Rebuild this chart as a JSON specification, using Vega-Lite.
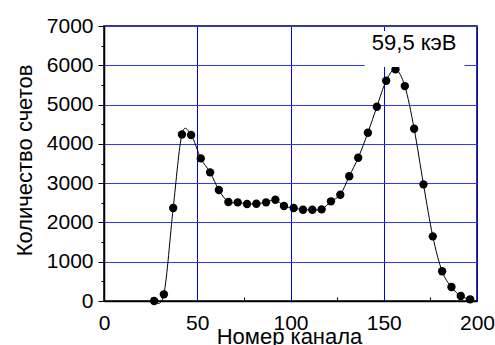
{
  "$schema": "https://vega.github.io/schema/vega-lite/v6.json",
  "width": 373,
  "height": 275,
  "autosize": {"type": "none"},
  "padding": {"left": 104, "top": 26, "right": 18, "bottom": 44},
  "background": "white",
  "config": {
    "view": {"stroke": "black", "strokeWidth": 1.5},
    "axis": {
      "labelFont": "Liberation Sans",
      "titleFont": "Liberation Sans",
      "labelFontSize": 21,
      "titleFontSize": 22,
      "titleFontWeight": "normal",
      "labelColor": "black",
      "titleColor": "black",
      "tickColor": "black",
      "domainColor": "black",
      "domainWidth": 1.5,
      "labelFlush": false,
      "labelOverlap": false
    }
  },
  "data": {
    "values": [
      {"channel": 26.9, "counts": 0},
      {"channel": 32.1, "counts": 170},
      {"channel": 37.1, "counts": 2366},
      {"channel": 41.8, "counts": 4240},
      {"channel": 46.7, "counts": 4224},
      {"channel": 51.9, "counts": 3630},
      {"channel": 56.9, "counts": 3275},
      {"channel": 61.6, "counts": 2824},
      {"channel": 66.7, "counts": 2519},
      {"channel": 71.7, "counts": 2511},
      {"channel": 76.7, "counts": 2468},
      {"channel": 81.7, "counts": 2476},
      {"channel": 86.9, "counts": 2511},
      {"channel": 91.9, "counts": 2578},
      {"channel": 96.5, "counts": 2417},
      {"channel": 101.7, "counts": 2366},
      {"channel": 106.7, "counts": 2323},
      {"channel": 111.7, "counts": 2323},
      {"channel": 116.7, "counts": 2333},
      {"channel": 121.7, "counts": 2537},
      {"channel": 126.7, "counts": 2705},
      {"channel": 131.5, "counts": 3175},
      {"channel": 136.3, "counts": 3646},
      {"channel": 141.5, "counts": 4283},
      {"channel": 146.3, "counts": 4944},
      {"channel": 151.3, "counts": 5606},
      {"channel": 156.3, "counts": 5895},
      {"channel": 161.3, "counts": 5471},
      {"channel": 166.3, "counts": 4384},
      {"channel": 171.3, "counts": 2969},
      {"channel": 176.3, "counts": 1646},
      {"channel": 181.3, "counts": 756},
      {"channel": 186.3, "counts": 356},
      {"channel": 191.3, "counts": 127},
      {"channel": 196.3, "counts": 43}
    ]
  },
  "resolve": {"axis": {"x": "independent", "y": "independent"}},
  "layer": [
    {
      "mark": {"type": "line", "color": "black", "strokeWidth": 1, "interpolate": "cardinal"},
      "encoding": {
        "x": {
          "field": "channel",
          "type": "quantitative",
          "scale": {"domain": [0, 200], "nice": false},
          "axis": {
            "orient": "bottom",
            "title": "Номер канала",
            "values": [0, 50, 100, 150, 200],
            "format": "d",
            "ticks": false,
            "labelPadding": 11,
            "grid": true,
            "gridColor": "#0000ff",
            "gridWidth": 1,
            "titleX": 185,
            "titleY": 42,
            "titleAlign": "center",
            "titleBaseline": "alphabetic"
          }
        },
        "y": {
          "field": "counts",
          "type": "quantitative",
          "scale": {"domain": [0, 7000], "nice": false},
          "axis": {
            "orient": "left",
            "title": "Количество счетов",
            "values": [0, 1000, 2000, 3000, 4000, 5000, 6000, 7000],
            "format": "d",
            "tickSize": 6,
            "labelPadding": 5,
            "grid": true,
            "gridColor": "#3333ff",
            "gridWidth": 1,
            "titleAngle": 270,
            "titleX": -73,
            "titleY": 134,
            "titleAlign": "center",
            "titleBaseline": "alphabetic"
          }
        }
      }
    },
    {
      "mark": {"type": "circle", "color": "black", "opacity": 1, "size": 70},
      "encoding": {
        "x": {
          "field": "channel",
          "type": "quantitative",
          "axis": {"orient": "bottom", "values": [25, 75, 125, 175], "labels": false, "grid": false, "domain": false, "tickSize": 4, "offset": -4, "title": null}
        },
        "y": {
          "field": "counts",
          "type": "quantitative",
          "axis": {"orient": "left", "values": [500, 1500, 2500, 3500, 4500, 5500, 6500], "labels": false, "grid": false, "domain": false, "tickSize": 3, "title": null}
        }
      }
    },
    {
      "data": {"values": [{}]},
      "mark": {"type": "rect", "fill": "white"},
      "encoding": {
        "x": {"datum": 139.7, "type": "quantitative", "axis": null},
        "x2": {"datum": 193.3},
        "y": {"datum": 5954, "type": "quantitative", "axis": null},
        "y2": {"datum": 6870}
      }
    },
    {
      "data": {"values": [{}]},
      "mark": {"type": "text", "font": "Liberation Sans", "fontSize": 22, "baseline": "alphabetic", "align": "center", "color": "black"},
      "encoding": {
        "x": {"datum": 166.3, "type": "quantitative", "axis": null},
        "y": {"datum": 6390, "type": "quantitative", "axis": null},
        "text": {"value": "59,5 кэВ"}
      }
    }
  ]
}
